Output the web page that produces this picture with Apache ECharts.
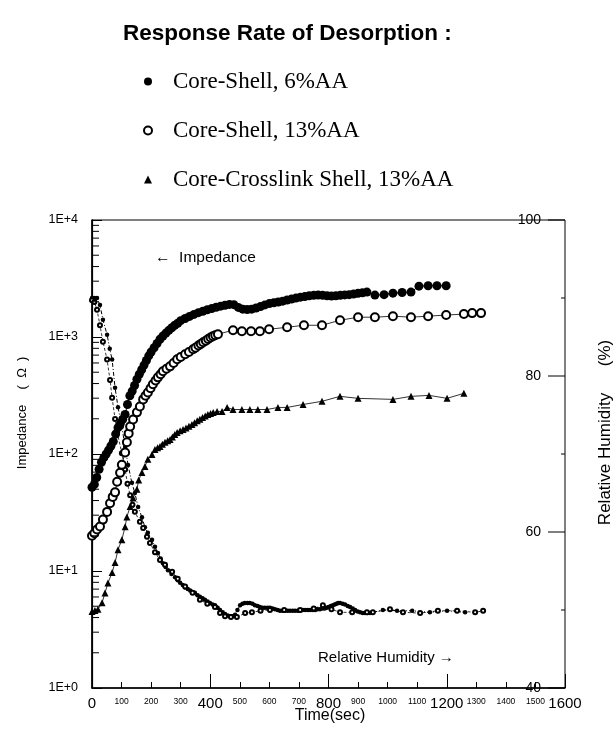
<!DOCTYPE html>
<html><head><meta charset="utf-8">
<script src="https://cdn.jsdelivr.net/npm/echarts@6/dist/echarts.min.js"></script>
<style>html,body{margin:0;padding:0;background:#fff}#c{width:616px;height:732px}</style>
</head><body><div id="c"></div>
<script>
// ---------- text ----------
const titleText = 'Response Rate of Desorption :';
const seriesNames = ['Core-Shell, 6%AA', 'Core-Shell, 13%AA', 'Core-Crosslink Shell, 13%AA'];
const rhNames = ['RH 6%AA', 'RH 13%AA'];

// ---------- impedance: Core-Shell 6%AA (filled circles) ----------
const t1 = [0,8,16,24,32,40,48,56,64,72,80,88,96,104,112,120,128,136,144,152,160,168,176,184,192,200,210,220,230,240,250,260,270,280,290,300,315,330,345,360,375,390,405,420,435,450,465,480,495,510,525,540,555,570,585,600,615,630,645,660,675,690,705,720,735,750,765,780,795,810,825,840,855,870,885,900,915,930,957,988,1018,1049,1079,1106,1137,1167,1198];
const z1 = [52,55,63,74,85,93,100,108,117,128,148,168,182,198,218,265,315,345,385,435,480,525,575,630,690,745,810,880,956,1020,1080,1140,1200,1260,1310,1380,1440,1500,1560,1615,1660,1710,1750,1795,1835,1870,1900,1890,1790,1730,1720,1730,1770,1820,1880,1930,1960,1990,2025,2070,2110,2150,2190,2220,2250,2270,2280,2270,2250,2240,2250,2270,2290,2300,2330,2360,2390,2420,2280,2300,2370,2400,2420,2720,2740,2740,2740];

// ---------- impedance: Core-Shell 13%AA (open circles) ----------
const t2 = [0,8,17,27,37,51,61,70,78,85,95,101,112,118,124,129,139,152,162,173,181,189,198,206,215,223,232,240,252,264,276,288,300,315,328,342,350,360,368,376,385,393,401,409,417,426,477,507,538,568,599,660,717,778,839,900,957,1018,1079,1137,1198,1258,1286,1316];
const z2 = [20,21,22.6,24,27.5,32,38,43,47,58,69,81,103,126,150,172,197,227,255,293,315,336,365,394,425,452,480,509,535,561,600,645,675,711,745,785,810,845,870,901,930,960,990,1014,1035,1057,1143,1120,1120,1120,1165,1211,1260,1260,1391,1476,1476,1507,1476,1507,1540,1570,1600,1600];

// ---------- impedance: Core-Crosslink Shell 13%AA (triangles) ----------
const t3 = [0,10,20,34,44,54,68,78,88,101,112,118,129,139,152,158,169,179,189,203,213,222,230,238,247,256,264,272,280,288,298,308,318,328,338,347,356,365,374,383,392,401,410,423,440,457,477,507,534,561,592,629,660,714,778,839,900,1018,1079,1140,1201,1258];
const z3 = [4.5,4.6,4.7,5.35,6.5,7.9,9.7,11.8,15.2,18.5,23.9,29,35.5,42,50,60,69.5,78,90,99,109,113,116,121,126,130,133,140,147,153,158,162,167,173,179,185,192,198,205,211,218,222,226,231,231,250,240,240,240,240,240,250,250,265,282,311,299,293,311,317,299,330];

// ---------- relative humidity (right axis) ----------
const tRh1 = [0,8,17,27,37,51,60,68,78,88,101,112,122,135,145,156,169,179,189,203,213,223,232,240,249,257,269,281,290,298,307,315,324,332,340,348,357,365,374,382,391,399,408,416,425,433,442,450,459,467,476,484,492,501,509,517,526,534,543,551,560,568,577,585,594,602,611,619,628,636,645,653,662,670,679,687,696,704,713,721,730,738,747,755,763,771,779,787,794,800,808,815,821,827,833,839,848,856,865,873,882,890,899,907,916,924,932,940,984,1032,1083,1143,1201,1262];
const rh1 = [90,90,90,89.1,87.2,85.3,83.5,82.1,78.5,76,73.5,70.9,68.6,66.3,65,63.2,61.9,60.6,59.9,59,58.1,57.3,56.6,56,55.5,55.1,54.6,54.2,53.8,53.5,53.2,52.9,52.7,52.5,52.3,52.2,51.9,51.7,51.5,51.3,51.1,50.9,50.7,50.6,50.3,50,49.7,49.5,49.3,49.2,49.2,49.4,50,50.6,50.8,50.9,50.9,50.9,50.8,50.6,50.5,50.4,50.3,50.3,50.3,50.3,50.2,50.1,50,49.9,49.9,49.9,49.9,49.9,49.9,49.9,49.9,49.9,50,50,50,50,50,50,50.1,50.1,50.2,50.2,50.3,50.4,50.5,50.6,50.7,50.8,50.9,50.9,50.8,50.7,50.5,50.4,50.2,50,49.8,49.7,49.6,49.6,49.6,49.6,50,49.9,49.9,49.7,49.9,49.7];
const tRh2 = [0,8,17,27,37,51,61,68,78,85,101,112,120,129,137,145,162,173,186,196,213,230,247,271,290,315,340,365,390,416,433,450,470,490,518,541,570,602,650,704,750,781,810,839,880,930,950,1008,1052,1110,1170,1235,1296,1323];
const rh2 = [89.7,89.5,88.5,86.5,84.4,82.1,79.5,77.2,74.5,72.8,70.1,68,66.2,64.7,63.5,62.6,61.3,60.5,59.4,58.6,57.4,56.4,55.8,54.9,54,53,52.2,51.3,50.8,50.4,49.6,49.2,49.1,49.1,49.6,49.7,49.9,50,50,50,50.2,50.6,50.1,49.7,49.7,49.7,49.7,50.1,49.7,49.6,49.9,49.9,49.7,49.9];

// ---------- axes ----------
const xMin = 0, xMax = 1600, xStep = 100, xMajorStep = 400;
const yLogMin = 1, yLogMax = 10000;
const yLogLabels = ['1E+0', '1E+1', '1E+2', '1E+3', '1E+4'];
const logMinorTicks = [2,3,4,5,6,7,8,9,20,30,40,50,60,70,80,90,200,300,400,500,600,700,800,900,2000,3000,4000,5000,6000,7000,8000,9000];
const rhMin = 40, rhMax = 100, rhStep = 20;
const rhMajorTicks = [40, 60, 80, 100];
const rhMinorTicks = [50, 70, 90];

const zip = (a, b) => a.map((v, i) => [v, b[i]]);
const SANS = '"Liberation Sans", Arial, Helvetica, sans-serif';
const SERIF = '"Liberation Serif", "Times New Roman", serif';

function tickSeries(name, yIdx, values, atX, len) {
  return {
    name: name, type: 'custom', xAxisIndex: 0, yAxisIndex: yIdx, silent: true, clip: false, z: 5,
    data: values.map(v => [atX, v]),
    renderItem: (params, api) => {
      const p = api.coord([api.value(0), api.value(1)]);
      return {type: 'line', shape: {x1: p[0], y1: p[1], x2: p[0] + len, y2: p[1]}, style: {stroke: '#000', lineWidth: 1}};
    }
  };
}

const chart = echarts.init(document.getElementById('c'), null, {renderer: 'canvas'});
const option = {
  animation: false,
  backgroundColor: '#fff',
  title: {
    text: titleText, left: 123, top: 22, padding: 0,
    textStyle: {fontFamily: SANS, fontSize: 22.5, fontWeight: 'bold', color: '#000'}
  },
  legend: {
    orient: 'vertical', left: 138, top: 64, itemWidth: 8, itemHeight: 8, itemGap: 24,
    selectedMode: false,
    data: [
      {name: seriesNames[0], icon: 'circle'},
      {name: seriesNames[1], icon: 'emptyCircle'},
      {name: seriesNames[2], icon: 'triangle'}
    ],
    textStyle: {fontFamily: SERIF, fontSize: 23, color: '#000', lineHeight: 25, padding: [0, 0, 0, 16]}
  },
  grid: {left: 92, right: 51, top: 220, bottom: 44, show: true, borderColor: '#000', borderWidth: 1, backgroundColor: 'transparent'},
  xAxis: [
    {
      type: 'value', min: xMin, max: xMax, interval: xStep, position: 'bottom',
      axisLine: {lineStyle: {color: '#000', width: 1.5}},
      axisTick: {inside: true, length: 6, lineStyle: {color: '#000'}},
      axisLabel: {fontFamily: SANS, fontSize: 8.5, color: '#000', margin: 9,
        formatter: v => (v % xMajorStep === 0 ? '' : String(v))},
      splitLine: {show: false}
    },
    {
      type: 'value', min: xMin, max: xMax, interval: xMajorStep, position: 'bottom',
      axisLine: {show: false},
      axisTick: {inside: true, length: 14, lineStyle: {color: '#000'}},
      axisLabel: {fontFamily: SANS, fontSize: 15, color: '#000', margin: 8, formatter: v => String(v)},
      splitLine: {show: false}
    }
  ],
  yAxis: [
    {
      type: 'log', logBase: 10, min: yLogMin, max: yLogMax, position: 'left',
      axisLine: {lineStyle: {color: '#000', width: 1.5}},
      axisTick: {inside: true, length: 10, lineStyle: {color: '#000'}},
      axisLabel: {fontFamily: SANS, fontSize: 12.5, color: '#000', margin: 14,
        formatter: v => yLogLabels[Math.round(Math.log10(v))]},
      splitLine: {show: false}
    },
    {
      type: 'value', min: rhMin, max: rhMax, interval: rhStep, position: 'right',
      axisLine: {lineStyle: {color: '#000', width: 1.2}},
      axisTick: {show: false},
      axisLabel: {inside: true, fontFamily: SANS, fontSize: 14, color: '#000', margin: 24},
      splitLine: {show: false}
    }
  ],
  graphic: [
    {type: 'text', x: 155, y: 258, style: {text: '←  Impedance', fontFamily: SANS, fontSize: 15.5, fill: '#000', align: 'left', verticalAlign: 'middle', textAlign: 'left', textVerticalAlign: 'middle'}},
    {type: 'text', x: 318, y: 658, style: {text: 'Relative Humidity →', fontFamily: SANS, fontSize: 15, fill: '#000', align: 'left', verticalAlign: 'middle', textAlign: 'left', textVerticalAlign: 'middle'}},
    {type: 'text', x: 330, y: 716, style: {text: 'Time(sec)', fontFamily: SANS, fontSize: 16, fill: '#000', align: 'center', verticalAlign: 'middle', textAlign: 'center', textVerticalAlign: 'middle'}},
    {type: 'text', x: 22, y: 437, rotation: Math.PI / 2, style: {text: 'Impedance', fontFamily: SANS, fontSize: 13, fill: '#000', align: 'center', verticalAlign: 'middle', textAlign: 'center', textVerticalAlign: 'middle'}},
    {type: 'text', x: 22, y: 373, rotation: Math.PI / 2, style: {text: '(  Ω  )', fontFamily: SANS, fontSize: 13, fill: '#000', align: 'center', verticalAlign: 'middle', textAlign: 'center', textVerticalAlign: 'middle'}},
    {type: 'text', x: 605, y: 459, rotation: Math.PI / 2, style: {text: 'Relative Humidity', fontFamily: SANS, fontSize: 17, fill: '#000', align: 'center', verticalAlign: 'middle', textAlign: 'center', textVerticalAlign: 'middle'}},
    {type: 'text', x: 605, y: 353, rotation: Math.PI / 2, style: {text: '(%)', fontFamily: SANS, fontSize: 17, fill: '#000', align: 'center', verticalAlign: 'middle', textAlign: 'center', textVerticalAlign: 'middle'}}
  ],
  series: [
    {
      name: rhNames[0], type: 'line', xAxisIndex: 0, yAxisIndex: 1, data: zip(tRh1, rh1),
      symbol: 'circle', symbolSize: 4.5, showAllSymbol: true,
      itemStyle: {color: '#000'}, lineStyle: {color: '#000', width: 1, type: [4, 2, 1, 2]}, z: 3
    },
    {
      name: rhNames[1], type: 'line', xAxisIndex: 0, yAxisIndex: 1, data: zip(tRh2, rh2),
      symbol: 'emptyCircle', symbolSize: 4, showAllSymbol: true,
      itemStyle: {color: '#000', borderWidth: 0.8}, lineStyle: {color: '#000', width: 0.8, type: [3, 2]}, z: 3
    },
    {
      name: seriesNames[0], type: 'line', xAxisIndex: 0, yAxisIndex: 0, data: zip(t1, z1),
      symbol: 'circle', symbolSize: 9, showAllSymbol: true,
      itemStyle: {color: '#000'}, lineStyle: {color: '#000', width: 1}, z: 4
    },
    {
      name: seriesNames[1], type: 'line', xAxisIndex: 0, yAxisIndex: 0, data: zip(t2, z2),
      symbol: 'emptyCircle', symbolSize: 8, showAllSymbol: true,
      itemStyle: {color: '#000', borderWidth: 1}, lineStyle: {color: '#000', width: 0.8}, z: 4
    },
    {
      name: seriesNames[2], type: 'line', xAxisIndex: 0, yAxisIndex: 0, data: zip(t3, z3),
      symbol: 'triangle', symbolSize: 7, showAllSymbol: true,
      itemStyle: {color: '#000'}, lineStyle: {color: '#000', width: 0.8}, z: 4
    },
    tickSeries('logMinorTicks', 0, logMinorTicks, xMin, 7),
    tickSeries('rhMajorTicks', 1, rhMajorTicks, xMax, -17),
    tickSeries('rhMinorTicks', 1, rhMinorTicks, xMax, -4)
  ]
};
chart.setOption(option);
</script>
</body></html>
